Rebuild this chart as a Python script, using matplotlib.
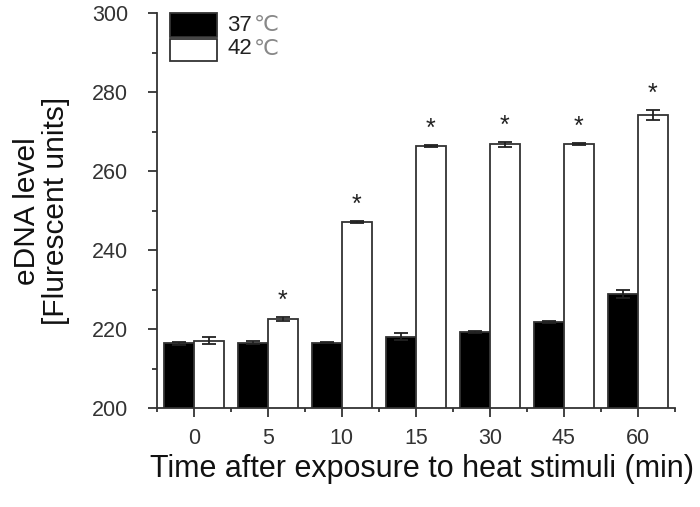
import matplotlib
matplotlib.use("Agg")
import matplotlib.pyplot as plt
import numpy as np
from matplotlib.patches import Rectangle
from matplotlib.ticker import MultipleLocator, FixedLocator

plt.rcParams['font.family'] = ['Liberation Sans', 'DejaVu Sans']

categories = ['0', '5', '10', '15', '30', '45', '60']
vals_37 = [216.4, 216.6, 216.6, 218.1, 219.2, 221.8, 228.9]
err_37 = [0.3, 0.4, 0.2, 0.8, 0.3, 0.3, 0.9]
vals_42 = [217.1, 222.6, 247.2, 266.3, 266.8, 266.9, 274.3]
err_42 = [0.8, 0.6, 0.2, 0.3, 0.6, 0.3, 1.3]
significant = [False, True, True, True, True, True, True]
legend_labels = ['37', '42']

fig = plt.figure(figsize=(7.0, 5.07), dpi=100)
ax = fig.add_axes([0.224, 0.195, 0.740, 0.779])

x = np.arange(len(categories))
w = 0.405
edge = '#333333'
ax.bar(x - w/2, vals_37, w, color='black', edgecolor=edge, linewidth=1.3, zorder=2)
ax.bar(x + w/2, vals_42, w, color='white', edgecolor=edge, linewidth=1.3, zorder=2)
ax.errorbar(x - w/2, vals_37, yerr=err_37, fmt='none', ecolor='#222222', elinewidth=1.3, capsize=5, capthick=1.3, zorder=3)
ax.errorbar(x + w/2, vals_42, yerr=err_42, fmt='none', ecolor='#222222', elinewidth=1.3, capsize=5, capthick=1.3, zorder=3)
for xi, v, e, s in zip(x, vals_42, err_42, significant):
    if s:
        ax.text(xi + w/2, v + e + 1.0, '*', ha='center', va='bottom', fontsize=18, color='#222222')

ax.set_xlim(-0.5, len(categories) - 0.5)
ax.set_ylim(200, 300)
ax.set_xticks(x)
ax.set_xticklabels(categories)
ax.xaxis.set_minor_locator(FixedLocator(np.arange(-0.5, len(categories), 1.0)))
ax.yaxis.set_major_locator(MultipleLocator(20))
ax.yaxis.set_minor_locator(MultipleLocator(10))

for s in ['top', 'right']:
    ax.spines[s].set_visible(False)
for s in ['left', 'bottom']:
    ax.spines[s].set_color(edge)
    ax.spines[s].set_linewidth(1.3)

ax.tick_params(axis='both', which='major', direction='out', length=6.5, width=1.3, color=edge,
               labelsize=15.5, labelcolor='#333333')
ax.tick_params(axis='x', which='major', pad=8)
ax.tick_params(axis='y', which='major', pad=14)
ax.tick_params(axis='both', which='minor', direction='out', length=3.5, width=1.3, color=edge)
ax.tick_params(axis='x', which='minor', length=3)

ax.set_xlabel('Time after exposure to heat stimuli (min)', fontsize=22, color='#111111', labelpad=0)
ax.xaxis.set_label_coords(0.512, -0.115)
ax.set_ylabel('eDNA level\n[Flurescent units]', fontsize=21.5, color='#111111', labelpad=16, linespacing=1.05)

# legend drawn manually
bx0, bw, bh = 0.025, 0.091, 0.060
ax.add_patch(Rectangle((bx0, 0.94), bw, bh, transform=ax.transAxes, facecolor='black',
                       edgecolor=edge, linewidth=1.3, clip_on=False, zorder=4))
ax.add_patch(Rectangle((bx0, 0.88), bw, bh - 0.005, transform=ax.transAxes, facecolor='white',
                       edgecolor=edge, linewidth=1.3, clip_on=False, zorder=4))
for yy, lab in zip([0.97, 0.91], legend_labels):
    ax.text(bx0 + bw + 0.02, yy, lab, transform=ax.transAxes, ha='left', va='center',
            fontsize=16, color='#222222')
    ax.text(bx0 + bw + 0.072, yy, '℃', transform=ax.transAxes, ha='left', va='center',
            fontsize=16, color='#888888', family=['DejaVu Sans'])

fig.savefig('out.png', dpi=100)
